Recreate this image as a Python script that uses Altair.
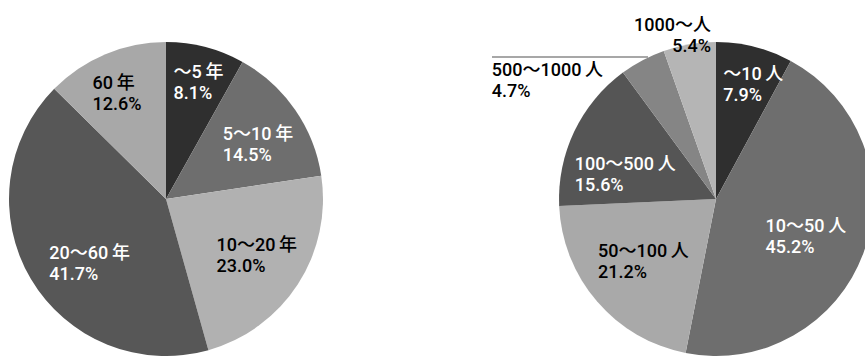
import altair as alt
import pandas as pd

# ---- data ----
year_cats = ["〜5年", "5〜10年", "10〜20年", "20〜60年", "60年"]
year_pct = [8.1, 14.5, 23.0, 41.7, 12.6]

size_cats = ["〜10人", "10〜50人", "50〜100人", "100〜500人", "500〜1000人", "1000〜人"]
size_pct = [7.9, 45.2, 21.2, 15.6, 4.7, 5.4]

# ---- styles / layout ----
year_fill = ["#2f2f2f", "#6e6e6e", "#b1b1b1", "#575757", "#a8a8a8"]
year_ink = ["white", "white", "black", "white", "black"]
year_lr = [121, 97, 103, 125, 115]            # label anchor radius along slice middle (px)
year_ldx = [-23, -23, -36, -9, -29]           # shift to label's aligned edge (px)

size_fill = ["#2f2f2f", "#6e6e6e", "#a9a9a9", "#555555", "#858585", "#b5b5b5"]
size_ink = ["white", "white", "black", "white", "black", "black"]
size_lr = [119, 109, 95, 58, 135, 166]
size_ldx = [-22, -53, -46, -89, -161, 23]
size_align = ["left", "left", "left", "left", "left", "right"]

R = 157
CY = 199
FONT = "Roboto, 'Noto Sans CJK JP', sans-serif"
FS = 18


def disp(c):
    if len(c) > 1 and c[-2].isdigit():
        return c[:-1] + "\u2009" + c[-1]
    return c


def make_df(cats, vals, fills, inks, lrs, ldxs, aligns=None):
    aligns = aligns or ["left"] * len(cats)
    labels = [f"{disp(c)}\n{v:.1f}%" for c, v in zip(cats, vals)]
    return pd.DataFrame({
        "cat": cats, "pct": vals, "idx": list(range(len(cats))),
        "fill": fills, "ink": inks, "lr": lrs, "ldx": ldxs,
        "lab_l": [l if a == "left" else "" for l, a in zip(labels, aligns)],
        "lab_r": [l if a == "right" else "" for l, a in zip(labels, aligns)],
    })


def pie(df, cx):
    base = alt.Chart(df).transform_window(
        cum="sum(pct)", sort=[alt.SortField("idx")], frame=[None, 0]
    ).transform_joinaggregate(total="sum(pct)").transform_calculate(
        a0="2*PI*(datum.cum - datum.pct)/datum.total",
        a1="2*PI*datum.cum/datum.total",
        am="2*PI*(datum.cum - datum.pct/2)/datum.total",
    ).transform_calculate(
        lx=f"{cx} + datum.lr*sin(datum.am) + datum.ldx",
        ly=f"{CY} - datum.lr*cos(datum.am)",
    )

    arcs = base.mark_arc(outerRadius=R).encode(
        x=alt.value(cx), y=alt.value(CY),
        theta=alt.Theta("a0:Q", scale=None),
        theta2="a1:Q",
        color=alt.Color("fill:N", scale=None, legend=None),
    )
    layers = [arcs]
    for field, align in [("lab_l", "left"), ("lab_r", "right")]:
        layers.append(
            base.mark_text(font=FONT, fontSize=FS, fontWeight=500, lineBreak="\n",
                           lineHeight=21, align=align, baseline="middle", dy=-9).encode(
                x=alt.X("lx:Q", scale=None, axis=None),
                y=alt.Y("ly:Q", scale=None, axis=None),
                text=f"{field}:N",
                color=alt.Color("ink:N", scale=None),
            )
        )
    return alt.layer(*layers)


left = pie(make_df(year_cats, year_pct, year_fill, year_ink, year_lr, year_ldx), 166)
right = pie(make_df(size_cats, size_pct, size_fill, size_ink, size_lr, size_ldx, size_align), 716)

leader = alt.Chart(pd.DataFrame({"a": [0]})).mark_rule(color="#8a8a8a", strokeWidth=1.5).encode(
    x=alt.value(492), x2=alt.value(648), y=alt.value(57)
)

chart = alt.layer(left, right, leader).properties(
    width=865, height=356, padding=0, autosize=alt.AutoSizeParams(type="none")
).configure(background="white").configure_view(stroke=None, strokeWidth=0)

chart.save("out.html", embed_options={"renderer": "svg", "actions": False})
